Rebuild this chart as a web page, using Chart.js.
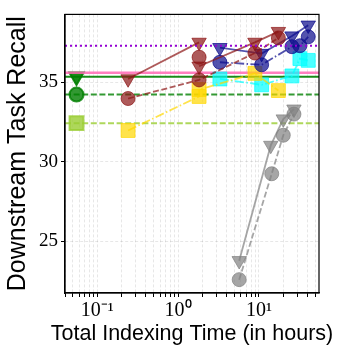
<!DOCTYPE html>
<html>
<head>
<meta charset="utf-8">
<script src="https://cdn.jsdelivr.net/npm/chart.js@4.4.0/dist/chart.umd.min.js"></script>
<style>
  html, body { margin: 0; padding: 0; background: #fff; }
  #wrap { width: 343px; height: 356px; }
</style>
</head>
<body>
<div id="wrap"><canvas id="chart" width="343" height="356"></canvas></div>
<script>
// Recall vs total indexing time (log x)

// axis ticks
const xDecades = [0.1, 1, 10];
const xDecadeLabels = ['10⁻¹', '10⁰', '10¹'];
const yTicks = [25, 30, 35];
const xTitle = 'Total Indexing Time (in hours)';
const yTitle = 'Downstream Task Recall';

// horizontal reference levels, with a marker at the left
const refSpanX = [0.04, 0.0555, 55.3];
const refPurple = 37.29;
const refPink = 35.59;
const refGreen = 35.34;
const refGreenDash = 34.22;
const refLime = 32.42;

// dark red runs
const redTriAx = [0.241, 1.82];
const redTriAy = [35.2, 37.5];
const redTriBx = [1.82, 8.92, 17.4];
const redTriBy = [36.0, 37.5, 38.18];
const redCircAx = [0.241, 1.82, 8.92, 17.4];
const redCircAy = [33.97, 35.14, 36.83, 37.78];
const redCircBx = [1.82];
const redCircBy = [36.57];

// navy runs
const blueTriX = [3.29, 10.8, 25.6, 40.7];
const blueTriY = [37.17, 36.8, 37.9, 38.58];
const blueCircX = [3.29, 10.8, 25.6, 32.1, 40.7];
const blueCircY = [36.25, 36.09, 37.23, 37.29, 37.85];

// gold squares
const goldX = [0.241, 1.82, 1.82, 8.92, 17.4];
const goldY = [31.96, 34.1, 34.53, 35.55, 34.47];

// cyan squares
const cyanX = [3.29, 10.8, 25.6, 32.1, 40.7];
const cyanY = [35.2, 34.83, 35.39, 36.48, 36.37];

// gray runs
const grayTriX = [5.7, 14.0, 20.0, 27.1];
const grayTriY = [23.77, 31.02, 32.68, 33.3];
const grayCircX = [5.7, 14.4, 20.0, 27.1];
const grayCircY = [22.58, 29.24, 31.66, 32.99];

const DASHED = [6, 2.6];
const DASHDOT = [9, 2.4, 1.5, 2.4];
const DOTTED = [2, 3];

function pts(xs, ys) {
  return xs.map((x, i) => ({ x: x, y: ys[i] }));
}

function marker(shape) {
  if (shape === 'tri') return { pointStyle: 'triangle', pointRotation: 180, pointRadius: 8.3 };
  if (shape === 'sq') return { pointStyle: 'rect', pointRotation: 0, pointRadius: 9.8 };
  return { pointStyle: 'circle', pointRotation: 0, pointRadius: 7 };
}

function series(xs, ys, rgb, shape, dash, showLine) {
  const m = marker(shape);
  return {
    data: pts(xs, ys),
    showLine: showLine !== false,
    borderColor: `rgba(${rgb},0.7)`,
    borderWidth: 1.8,
    borderDash: dash || [],
    backgroundColor: `rgba(${rgb},0.7)`,
    pointBackgroundColor: `rgba(${rgb},0.7)`,
    pointBorderColor: `rgba(${rgb},0.7)`,
    pointBorderWidth: 1,
    pointStyle: m.pointStyle,
    pointRotation: m.pointRotation,
    pointRadius: m.pointRadius,
    tension: 0,
    fill: false
  };
}

function refLine(value, color, dash, shape, width) {
  const m = marker(shape);
  return {
    data: pts(refSpanX, refSpanX.map(() => value)),
    showLine: true,
    borderColor: color,
    borderWidth: width || 2,
    borderDash: dash || [],
    pointBackgroundColor: color,
    pointBorderColor: color,
    pointStyle: m.pointStyle,
    pointRotation: m.pointRotation,
    pointRadius: shape ? [0, m.pointRadius, 0] : 0,
    fill: false
  };
}

const RED = '139,20,20';
const NAVY = '10,10,140';
const GOLD = '255,215,0';
const CYAN = '0,255,255';
const GRAY = '128,128,128';

// minor x ticks for the log grid
const xGridTicks = [];
[0.01, 0.1, 1, 10].forEach(d => {
  for (let k = 1; k <= 9; k++) {
    const v = xDecades.includes(d * k) ? d * k : +(d * k).toPrecision(3);
    if (v >= refSpanX[0] && v <= refSpanX[2]) xGridTicks.push(v);
  }
});

// frame around the plot area + x title (wider than the axis, so drawn here)
const framePlugin = {
  id: 'frame',
  afterDraw(chart) {
    const { ctx, chartArea: a } = chart;
    ctx.save();
    ctx.strokeStyle = '#000';
    ctx.lineWidth = 1.2;
    ctx.strokeRect(a.left, a.top, a.right - a.left, a.bottom - a.top);
    ctx.fillStyle = '#000';
    ctx.font = '21.5px "Liberation Sans"';
    ctx.textAlign = 'center';
    ctx.textBaseline = 'middle';
    ctx.fillText(xTitle, (a.left + a.right) / 2, 334);
    ctx.restore();
  }
};

new Chart(document.getElementById('chart'), {
  type: 'scatter',
  data: {
    datasets: [
      refLine(refPurple, 'rgb(148,0,211)', DOTTED, null, 2),
      series(redTriAx, redTriAy, RED, 'tri', []),
      series(redTriBx, redTriBy, RED, 'tri', []),
      series(redCircAx, redCircAy, RED, 'circ', DASHED),
      series(redCircBx, redCircBy, RED, 'circ', [], false),
      series(blueTriX, blueTriY, NAVY, 'tri', []),
      series(blueCircX, blueCircY, NAVY, 'circ', DASHDOT),
      series(goldX, goldY, GOLD, 'sq', DASHDOT),
      series(cyanX, cyanY, CYAN, 'sq', DASHDOT),
      series(grayTriX, grayTriY, GRAY, 'tri', []),
      series(grayCircX, grayCircY, GRAY, 'circ', DASHED),
      refLine(refPink, 'rgba(255,105,180,0.85)', [], null, 2.5),
      refLine(refGreen, 'rgba(0,128,0,0.9)', [], 'tri'),
      refLine(refGreenDash, 'rgba(0,128,0,0.8)', DASHED, 'circ'),
      refLine(refLime, 'rgba(154,205,50,0.8)', DASHED, 'sq')
    ]
  },
  options: {
    responsive: false,
    animation: false,
    layout: { padding: { top: 7, right: 24, left: 0, bottom: 0 } },
    plugins: { legend: { display: false }, tooltip: { enabled: false } },
    scales: {
      x: {
        type: 'logarithmic',
        min: refSpanX[0],
        max: refSpanX[2],
        afterBuildTicks: s => { s.ticks = xGridTicks.map(v => ({ value: v })); },
        afterFit: s => { s.height = 63; },
        ticks: {
          autoSkip: false,
          maxRotation: 0,
          padding: 2,
          color: '#000',
          font: { family: 'Liberation Serif', size: 20 },
          callback: v => {
            const i = xDecades.indexOf(v);
            return i >= 0 ? xDecadeLabels[i] : '';
          }
        },
        grid: { color: 'rgba(0,0,0,0.12)', lineWidth: 0.8, tickLength: 4, tickColor: '#000', tickWidth: 1 },
        border: { color: '#000', width: 1.2, dash: [3, 2] }
      },
      y: {
        min: 21.74,
        max: 39.26,
        afterBuildTicks: s => { s.ticks = yTicks.map(v => ({ value: v })); },
        afterFit: s => { s.width = 65; },
        ticks: {
          padding: 3,
          color: '#000',
          font: { family: 'Liberation Serif', size: 19 }
        },
        grid: { color: 'rgba(0,0,0,0.12)', lineWidth: 0.8, tickLength: 4, tickColor: '#000', tickWidth: 1 },
        border: { color: '#000', width: 1.2, dash: [3, 2] },
        title: {
          display: true,
          text: yTitle,
          color: '#000',
          font: { family: 'Liberation Sans', size: 25 },
          padding: { top: 3, bottom: 0 }
        }
      }
    }
  },
  plugins: [framePlugin]
});
</script>
</body>
</html>
